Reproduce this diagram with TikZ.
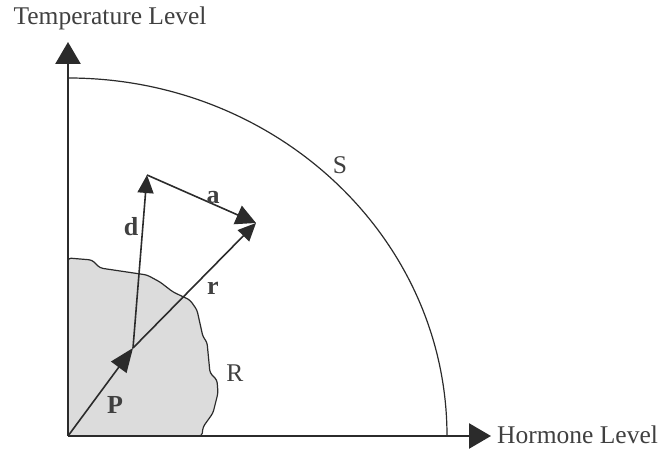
\documentclass[tikz,border=0pt]{standalone}
\usepackage{fontspec}
\setmainfont{Liberation Serif}
\usetikzlibrary{arrows.meta}
\definecolor{ink}{HTML}{2B2B2B}
\definecolor{txt}{HTML}{404040}
\definecolor{region}{HTML}{DCDCDC}
\begin{document}
\begin{tikzpicture}[x=1pt,y=1pt,
  axis/.style={draw=ink,line width=2.6pt,-{Triangle[length=22pt,width=25pt]}},
  vec/.style={draw=ink,line width=1.6pt,-{Triangle[length=18pt,width=16pt]}},
  lbl/.style={text=txt,font=\fontsize{26}{30}\selectfont\bfseries,inner sep=0pt},
  plain/.style={text=txt,font=\fontsize{25.5}{30}\selectfont,inner sep=0pt}]
\useasboundingbox (0,0) rectangle (667,449);
% region R
\fill[region,draw=ink,line width=1.2pt,rounded corners=3pt]
  (68,191) -- (92,189) -- (100,181) -- (147,174) -- (160,167) -- (173,157)
  -- (190,149) -- (197,139) -- (203,112) -- (207,107) -- (210,76) -- (217,69)
  -- (218,56) -- (213,36) -- (203,22) -- (202,13) -- (68,13) -- cycle;
% coordinates
\coordinate (O) at (68,13);
\coordinate (Ytip) at (68,407);
\coordinate (Xtip) at (491,13);
\coordinate (Stop) at (68,371);
\coordinate (P) at (133,101);
\coordinate (D) at (147,274);
\coordinate (A) at (256,226);
% S boundary
\draw[ink,line width=1.2pt] (Stop) arc[start angle=90,end angle=0,x radius=379,y radius=358];
% axes
\draw[axis] (O) -- (Ytip);
\draw[axis] (O) -- (Xtip);
% vectors
\draw[vec,-{Triangle[length=24pt,width=19pt]}] (O) -- (P);
\draw[vec] (P) -- (D);
\draw[vec,-{Triangle[length=20pt,width=20pt]}] (D) -- (A);
\draw[vec,-{Triangle[length=18pt,width=16pt]}] (P) -- (A);
% labels
\node[plain] (tl) at (110,431) {Temperature Level};
\node[plain,anchor=west] (hl) at (497,14) {Hormone Level};
\node[plain] (S) at (340,284) {S};
\node[plain] (R) at (235,76) {R};
\node[lbl] (dl) at (131,222) {d};
\node[lbl] (al) at (213,251) {a};
\node[lbl] (rl) at (213,161) {r};
\node[lbl] (pl) at (115,44) {P};
\end{tikzpicture}
\end{document}
